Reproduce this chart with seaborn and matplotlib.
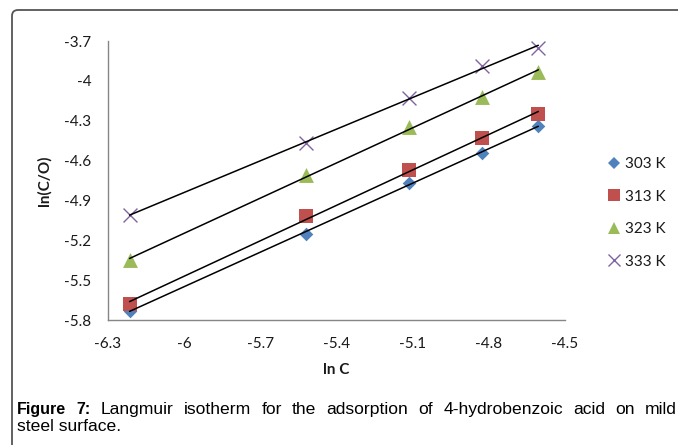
import numpy as np
import pandas as pd
import seaborn as sns
import matplotlib
matplotlib.use("Agg")
import matplotlib.pyplot as plt
from matplotlib.patches import FancyBboxPatch
from matplotlib.transforms import IdentityTransform
from matplotlib.lines import Line2D

# Langmuir isotherm data: ln C versus ln(C/θ) at four temperatures
ln_c = [-6.215, -5.521, -5.116, -4.828, -4.605]
temps = ["303 K", "313 K", "323 K", "333 K"]
ln_c_theta_303 = [-5.73, -5.15, -4.77, -4.54, -4.34]
ln_c_theta_313 = [-5.68, -5.02, -4.67, -4.43, -4.25]
ln_c_theta_323 = [-5.35, -4.71, -4.35, -4.12, -3.93]
ln_c_theta_333 = [-5.01, -4.47, -4.13, -3.89, -3.75]
x_ticks = [-6.3, -6.0, -5.7, -5.4, -5.1, -4.8, -4.5]
y_ticks = [-3.7, -4.0, -4.3, -4.6, -4.9, -5.2, -5.5, -5.8]

series = [ln_c_theta_303, ln_c_theta_313, ln_c_theta_323, ln_c_theta_333]
colors = ["#4F81BD", "#C0504D", "#9BBB59", "#8064A2"]
markers = ["D", "s", "^", "x"]
sizes = [48, 105, 115, 100]
legend_ms = [6, 9, 9, 9]

df = pd.DataFrame({
    "lnC": ln_c * len(temps),
    "lnCtheta": sum(series, []),
    "T": np.repeat(temps, len(ln_c)),
})

sns.set_theme(style="white")
plt.rcParams["font.family"] = ["Lato", "DejaVu Sans"]

fig = plt.figure(figsize=(6.78, 4.45), dpi=100)
ax = fig.add_axes([108 / 678, 1 - 320 / 445, 457 / 678, 279 / 445])

for i, t in enumerate(temps):
    sub = df[df["T"] == t]
    kw = dict(marker=markers[i], s=sizes[i], zorder=2, color=colors[i])
    kw["linewidth"] = 1.0 if markers[i] == "x" else 0
    sns.scatterplot(data=sub, x="lnC", y="lnCtheta", ax=ax, legend=False, **kw)
    sns.regplot(data=sub, x="lnC", y="lnCtheta", ax=ax, scatter=False, ci=None,
                truncate=True, color="black", line_kws=dict(lw=1.1, zorder=3))

ax.set_xlim(-6.3, -4.5)
ax.set_ylim(-5.8, -3.7)
ax.set_xticks(x_ticks)
ax.set_yticks(y_ticks)
ax.set_xticklabels([f"{v:g}" for v in x_ticks])
ax.set_yticklabels([f"{v:g}" for v in y_ticks])
ax.tick_params(axis="both", which="major", direction="out", length=5, width=1,
               color="#868686", labelsize=11, labelcolor="#1a1a1a", pad=7)
for side in ["top", "right"]:
    ax.spines[side].set_visible(False)
for side in ["left", "bottom"]:
    ax.spines[side].set_color("#868686")
    ax.spines[side].set_linewidth(1)
ax.set_xlabel("ln C", fontsize=11, fontweight="bold", color="#1a1a1a", labelpad=9)
ax.set_ylabel("ln(C/O)", fontsize=11, fontweight="bold", color="#1a1a1a", labelpad=9)

handles = []
for i, t in enumerate(temps):
    if markers[i] == "x":
        h = Line2D([], [], linestyle="none", marker="x", markersize=legend_ms[i],
                   markeredgecolor=colors[i], markeredgewidth=1.0)
    else:
        h = Line2D([], [], linestyle="none", marker=markers[i], markersize=legend_ms[i],
                   markerfacecolor=colors[i], markeredgewidth=0)
    handles.append(h)
fig.legend(handles, temps, loc="center left", bbox_to_anchor=(599 / 678, 1 - 213 / 445),
           frameon=False, fontsize=11, handlelength=1.0, handletextpad=0.2,
           labelspacing=1.2, borderpad=0, labelcolor="#1a1a1a")

# rounded chart frame
frame = FancyBboxPatch((12, -30), 720, 445 - 10 + 30, boxstyle="round,pad=0,rounding_size=6",
                       transform=IdentityTransform(), facecolor="none",
                       edgecolor="#555555", linewidth=1.3)
fig.patches.append(frame)

# justified caption
cap_font = dict(family=["Liberation Sans", "DejaVu Sans"], color="black")
words = ["Figure", "7:", "Langmuir", "isotherm", "for", "the", "adsorption", "of",
         "4-hydrobenzoic", "acid", "on", "mild"]
bold_n = 2
fig.canvas.draw()
renderer = fig.canvas.get_renderer()
arts = []
for j, w in enumerate(words):
    bold = j < bold_n
    t = fig.text(0, 0, w, fontweight="bold" if bold else "normal",
                 fontsize=11.5 if bold else 12.6,
                 transform=IdentityTransform(), va="baseline", ha="left", **cap_font)
    arts.append(t)
widths = [a.get_window_extent(renderer).width for a in arts]
x0, x1 = 17, 677
gap = (x1 - x0 - sum(widths)) / (len(words) - 1)
x = x0
for a, wdt in zip(arts, widths):
    a.set_position((x, 445 - 414))
    x += wdt + gap
fig.text(17, 445 - 431, "steel surface.", transform=IdentityTransform(), fontsize=12.6,
         va="baseline", ha="left", **cap_font)

fig.savefig("out.png", dpi=100, facecolor="white")
